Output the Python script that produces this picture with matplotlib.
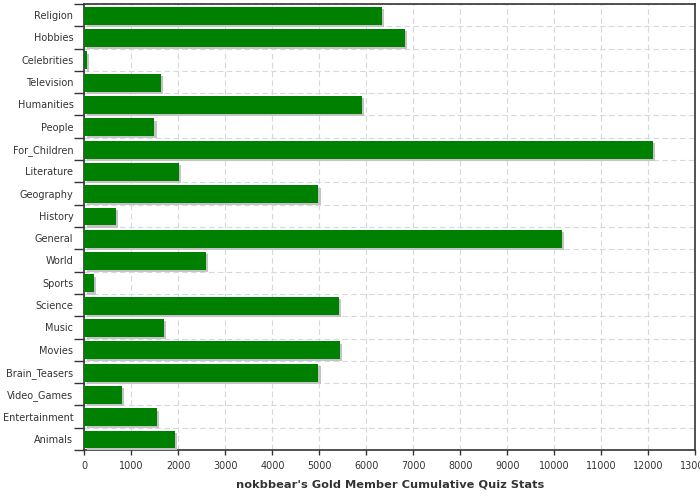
import matplotlib
matplotlib.use('Agg')
import matplotlib.pyplot as plt
import matplotlib.patheffects as pe
import numpy as np

# categories top to bottom
categories = ['Religion', 'Hobbies', 'Celebrities', 'Television', 'Humanities',
              'People', 'For_Children', 'Literature', 'Geography', 'History',
              'General', 'World', 'Sports', 'Science', 'Music', 'Movies',
              'Brain_Teasers', 'Video_Games', 'Entertainment', 'Animals']
values = [6334, 6823, 57, 1632, 5908,
          1489, 12094, 2015, 4979, 674,
          10164, 2589, 206, 5419, 1696, 5440,
          4979, 802, 1547, 1929]
x_ticks = list(range(0, 13001, 1000))

TEXT = '#333333'
GRID = '#d3d9de'

fig = plt.figure(figsize=(7, 5), dpi=100)
ax = fig.add_axes([0.1207, 0.1, 0.8723, 0.892])

pos = np.arange(len(categories))
bars = ax.barh(pos + 0.03, values, height=0.8, color='#008000', zorder=3)
for b in bars:
    b.set_path_effects([pe.SimplePatchShadow(offset=(1.6, -1.6),
                                             shadow_rgbFace='#c4c4c4', alpha=1.0),
                        pe.Normal()])

ax.set_ylim(len(categories) - 0.5, -0.5)
ax.set_xlim(0, 13000)

# category labels centred, ticks on the boundaries
ax.set_yticks(pos)
ax.set_yticklabels(categories, fontsize=7.0, color=TEXT)
ax.tick_params(axis='y', which='major', length=0, pad=8)
ax.set_yticks(np.arange(len(categories) + 1) - 0.5, minor=True)
ax.tick_params(axis='y', which='minor', length=7.5, width=1, color=TEXT,
               direction='out')

ax.set_xticks(x_ticks)
ax.set_xticklabels([str(t) for t in x_ticks], fontsize=6.9, color=TEXT)
ax.tick_params(axis='x', length=3.6, width=1, color=TEXT, pad=4.5)

ax.grid(True, axis='x', which='major', linestyle=(0, (5, 3)), color=GRID,
        linewidth=0.8, zorder=0)
ax.grid(True, axis='y', which='minor', linestyle=(0, (5, 3)), color=GRID,
        linewidth=0.8, zorder=0)
ax.set_axisbelow(True)

for s in ax.spines.values():
    s.set_color(TEXT)
    s.set_linewidth(1.2)

ax.set_xlabel("nokbbear's Gold Member Cumulative Quiz Stats", fontsize=8.2,
              fontweight='bold', color=TEXT, labelpad=6)

fig.savefig('out.png', dpi=100)
